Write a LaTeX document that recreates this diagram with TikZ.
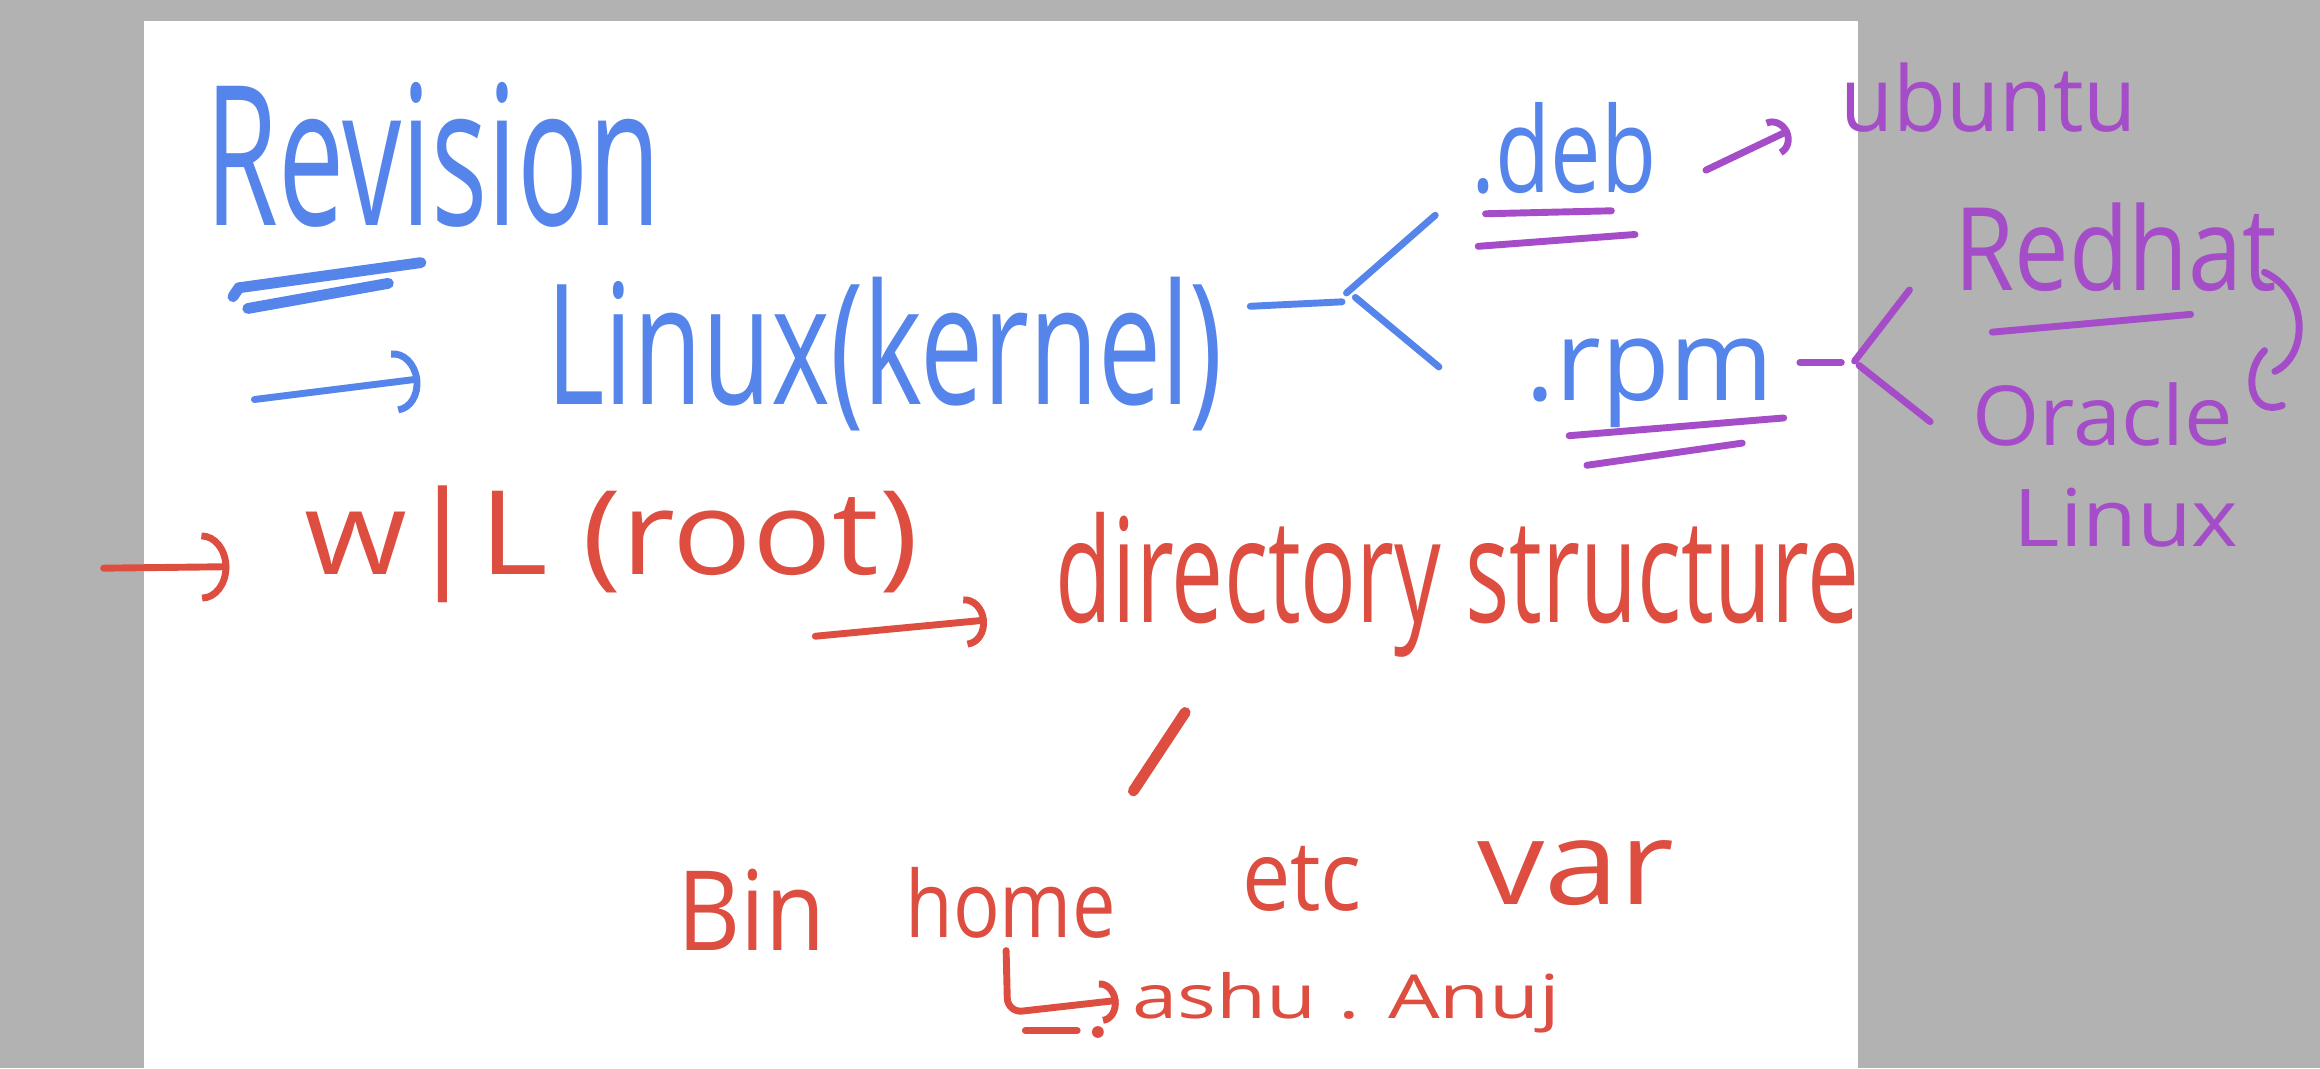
\documentclass[tikz,border=0pt]{standalone}
\usepackage{fontspec}
\newfontfamily\handfont{Open Sans}
\usepackage{graphicx}
\usetikzlibrary{arrows.meta,calc}
\definecolor{InkBlue}{HTML}{5585EA}
\definecolor{InkPurple}{HTML}{A54CC8}
\definecolor{InkRed}{HTML}{DD4D40}
\definecolor{Desk}{HTML}{B2B2B2}
\newlength{\hwunit}
\setlength{\hwunit}{0.015cm}
\newcommand{\handtext}[3]{\resizebox*{#1\hwunit}{#2\hwunit}{#3}}
\tikzset{
 hand/.style={inner sep=0pt, font=\handfont},
 stroke/.style={line width=0.07cm, line cap=round, line join=round},
 heavy/.style={stroke, line width=0.11cm},
 hookarrow/.style 2 args={stroke, -{Arc Barb[length=#1,width=#2]}}
}

\begin{document}
\begin{tikzpicture}[x=0.015cm,y=-0.015cm]
\useasboundingbox (0,0) rectangle (1568,722);
\fill[Desk] (0,0) rectangle (1568,722);
\fill[white] (97,14) rectangle (1256,722);

% blue: title and kernel
\node[hand,text=InkBlue] (revision) at (293,105) {\handtext{308}{98}{Revision}};
\node[hand,text=InkBlue] (kernel) at (598,239) {\handtext{457}{104}{Linux(kernel)}};
\node[hand,text=InkBlue] (deb) at (1057,100) {\handtext{125}{62}{.deb}};
\node[hand,text=InkBlue] (rpm) at (1115,259) {\handtext{168}{60}{.rpm}};

% purple: distributions
\node[hand,text=InkPurple] (ubuntu) at (1344,66) {\handtext{200}{47}{ubuntu}};
\node[hand,text=InkPurple] (redhat) at (1430,167) {\handtext{218}{60}{Redhat}};
\node[hand,text=InkPurple] (oracle) at (1421,280) {\handtext{176}{43}{Oracle}};
\node[hand,text=InkPurple] (oslinux) at (1437,350) {\handtext{152}{40}{Linux}};

% red: root and directories
\node[hand,text=InkRed] (root) at (413,368) {\handtext{415}{79}{w|L (root)}};
\node[hand,text=InkRed] (dirs) at (985,395) {\handtext{543}{98}{directory structure}};
\node[hand,text=InkRed] (bin) at (508,615) {\handtext{100}{55}{Bin}};
\node[hand,text=InkRed] (home) at (683,610) {\handtext{142}{48}{home}};
\node[hand,text=InkRed] (etc) at (880,594) {\handtext{81}{44}{etc}};
\node[hand,text=InkRed] (var) at (1065,590) {\handtext{133}{44}{var}};
\node[hand,text=InkRed] (users) at (910,678) {\handtext{289}{41}{ashu . Anuj}};

% blue strokes
\draw[heavy,InkBlue] ($(revision.south west)+(19,46)$) -- ($(revision.south west)+(23,40)$) -- ($(revision.south west)+(146,23)$);
\draw[heavy,InkBlue] ($(revision.south west)+(29,54)$) -- ($(revision.south west)+(124,37)$);
\coordinate (kstart) at ($(kernel.west)+(-197,31)$);
\draw[hookarrow={2.6mm}{6.4mm},InkBlue] (kstart) -- ($(kernel.west)+(-85,17)$);
\coordinate (fork) at ($(kernel.east)+(80,-35)$);
\draw[stroke,InkBlue] ($(kernel.east)+(18,-32)$) -- (fork);
\draw[stroke,InkBlue] ($(fork)+(3,-6)$) -- ($(deb.south west)+(-24,14)$);
\draw[stroke,InkBlue] ($(fork)+(9,-3)$) -- ($(rpm.west)+(-58,-11)$);

% purple strokes
\draw[stroke,InkPurple] ($(deb.south west)+(10,13)$) -- ($(deb.south west)+(95,11)$);
\draw[stroke,InkPurple] ($(deb.south west)+(5,35)$) -- ($(deb.south west)+(111,27)$);
\draw[hookarrow={1.8mm}{4mm},InkPurple] ($(deb.east)+(33,15)$) -- ($(ubuntu.west)+(-34,22)$);
\draw[stroke,InkPurple] ($(rpm.south west)+(30,5)$) -- ($(rpm.south west)+(175,-7)$);
\draw[stroke,InkPurple] ($(rpm.south west)+(42,25)$) -- ($(rpm.south west)+(147,10)$);
\draw[stroke,InkPurple] ($(rpm.east)+(17,-14)$) -- ($(rpm.east)+(45,-14)$);
\coordinate (rfork) at ($(rpm.east)+(54,-15)$);
\draw[stroke,InkPurple] (rfork) -- ($(redhat.west)+(-30,29)$);
\draw[stroke,InkPurple] ($(rfork)+(3,3)$) -- ($(oracle.west)+(-28,5)$);
\draw[stroke,InkPurple] ($(redhat.south west)+(26,27)$) -- ($(redhat.south west)+(160,15)$);
\begin{scope}[shift={(redhat.east)}]
\draw[stroke,InkPurple] (-9,17) .. controls (21,31) and (21,73) .. (-2,84);
\draw[stroke,InkPurple] (-9,70) .. controls (-24,85) and (-19,115) .. (3,107);
\end{scope}

% red strokes
\coordinate (rstart) at ($(root.west)+(-135,16)$);
\draw[hookarrow={2.8mm}{7mm},InkRed] (rstart) -- ($(root.west)+(-50,15)$);
\coordinate (dstart) at ($(dirs.west)+(-162,35)$);
\draw[hookarrow={2.2mm}{5.2mm},InkRed] (dstart) -- ($(dirs.west)+(-46,24)$);
\draw[heavy,InkRed] ($(home.north)+(83,-51)$) -- ($(home.north)+(118,-104)$);
\draw[hookarrow={1.8mm}{4.4mm},InkRed,rounded corners=0.15cm] ($(home.south)+(-3,8)$) -- ($(home.south)+(-2,50)$) -- ($(users.west)+(-9,-2)$);
\draw[stroke,InkRed] ($(home.south)+(10,62)$) -- ($(home.south)+(45,62)$);
\fill[InkRed] ($(home.south)+(59,63)$) circle (4);
\end{tikzpicture}
\end{document}
